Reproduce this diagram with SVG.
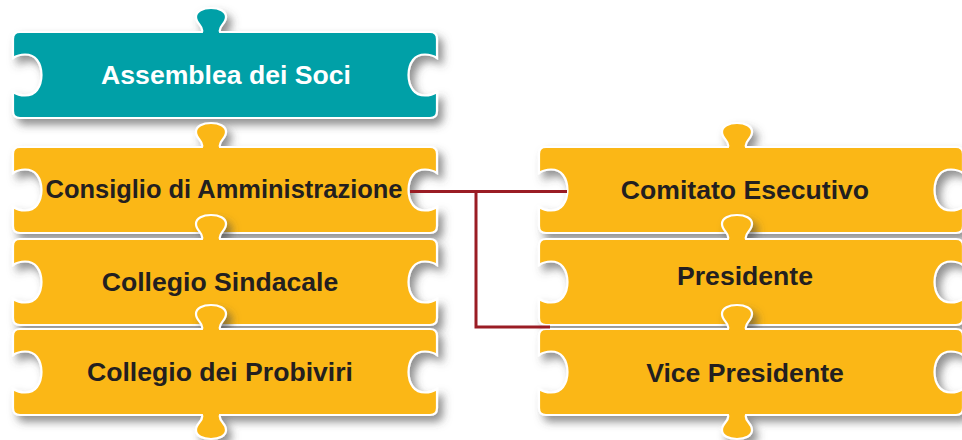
<svg xmlns="http://www.w3.org/2000/svg" xmlns:xlink="http://www.w3.org/1999/xlink" width="962" height="440" viewBox="0 0 962 440">
<style>
.pc{stroke:#ffffff;stroke-width:2.2;filter:url(#sh)}
.y{fill:#fbb716}
.t{fill:#00a0a7}
.lbl{font-family:"Liberation Sans",Arial,sans-serif;font-weight:bold;font-size:26.6px;fill:#231f20;text-anchor:middle}
.w{fill:#ffffff}
.con{fill:none;stroke:#9a1c24;stroke-width:3}
</style>
<defs>
<filter id="sh" x="-10%" y="-30%" width="125%" height="170%">
<feDropShadow dx="5" dy="6" stdDeviation="4" flood-color="#4a4a4a" flood-opacity="0.6"/>
</filter>
<path id="piece" d="M 7,0 H 189 C 191,-6 183,-8 183,-15 C 183,-21 190,-24 198,-24 C 206,-24 213,-21 213,-15 C 213,-8 205,-6 207,0 H 417 Q 424,0 424,7 V 26 C 418,22 406,20 400,28 C 394,36 394,50 400,58 C 406,66 418,64 424,60 V 79 Q 424,86 417,86 H 7 Q 0,86 0,79 V 60 C 6,64 18,66 24,58 C 30,50 30,36 24,28 C 18,20 6,22 0,26 V 7 Q 0,0 7,0 Z"/>
<path id="pieceB" d="M 7,0 H 189 C 191,-6 183,-8 183,-15 C 183,-21 190,-24 198,-24 C 206,-24 213,-21 213,-15 C 213,-8 205,-6 207,0 H 417 Q 424,0 424,7 V 26 C 418,22 406,20 400,28 C 394,36 394,50 400,58 C 406,66 418,64 424,60 V 79 Q 424,86 417,86 H 207 C 205,92 213,94 213,101 C 213,107 206,110 198,110 C 190,110 183,107 183,101 C 183,94 191,92 189,86 H 7 Q 0,86 0,79 V 60 C 6,64 18,66 24,58 C 30,50 30,36 24,28 C 18,20 6,22 0,26 V 7 Q 0,0 7,0 Z"/>
</defs>
<rect width="962" height="440" fill="#ffffff"/>

<g id="assemblea">
<use href="#piece" class="pc t" transform="translate(13,32)"/>
<text class="lbl w" x="226" y="84">Assemblea dei Soci</text>
</g>
<g id="consiglio">
<use href="#piece" class="pc y" transform="translate(13,147)"/>
<text class="lbl" x="224" y="198" textLength="357" lengthAdjust="spacingAndGlyphs">Consiglio di Amministrazione</text>
</g>
<g id="sindacale">
<use href="#piece" class="pc y" transform="translate(13,239)"/>
<text class="lbl" x="220" y="291">Collegio Sindacale</text>
</g>
<g id="probiviri">
<use href="#pieceB" class="pc y" transform="translate(13,329)"/>
<text class="lbl" x="220" y="381">Collegio dei Probiviri</text>
</g>

<g id="comitato">
<use href="#piece" class="pc y" transform="translate(539,147)"/>
<text class="lbl" x="745" y="199">Comitato Esecutivo</text>
</g>
<g id="presidente">
<use href="#piece" class="pc y" transform="translate(539,239)"/>
<text class="lbl" x="745" y="285">Presidente</text>
</g>
<g id="vice">
<use href="#pieceB" class="pc y" transform="translate(539,329)"/>
<text class="lbl" x="745" y="382">Vice Presidente</text>
</g>

<g id="connectors">
<path class="con" d="M 410,191.5 H 567"/>
<path class="con" d="M 476,191.5 V 327 H 550"/>
</g>
</svg>
